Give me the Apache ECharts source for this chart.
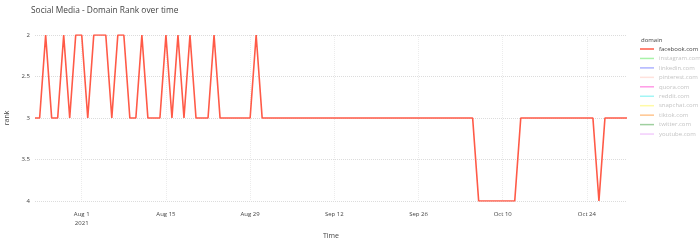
<!DOCTYPE html>
<html><head><meta charset="utf-8">
<script src="https://cdn.jsdelivr.net/npm/echarts@6/dist/echarts.min.js"></script>
<style>html,body{margin:0;padding:0;background:#fff}#c{width:700px;height:241px}</style>
</head><body><div id="c"></div>
<script>
const dates = [
'2021-07-24T05:30:00','2021-07-25','2021-07-26','2021-07-27','2021-07-28','2021-07-29','2021-07-30','2021-07-31',
'2021-08-01','2021-08-02','2021-08-03','2021-08-04','2021-08-05','2021-08-06','2021-08-07','2021-08-08','2021-08-09','2021-08-10',
'2021-08-11','2021-08-12','2021-08-13','2021-08-14','2021-08-15','2021-08-16','2021-08-17','2021-08-18','2021-08-19','2021-08-20',
'2021-08-21','2021-08-22','2021-08-23','2021-08-24','2021-08-25','2021-08-26','2021-08-27','2021-08-28','2021-08-29','2021-08-30','2021-08-31',
'2021-09-01','2021-09-02','2021-09-03','2021-09-04','2021-09-05','2021-09-06','2021-09-07','2021-09-08','2021-09-09','2021-09-10',
'2021-09-11','2021-09-12','2021-09-13','2021-09-14','2021-09-15','2021-09-16','2021-09-17','2021-09-18','2021-09-19','2021-09-20',
'2021-09-21','2021-09-22','2021-09-23','2021-09-24','2021-09-25','2021-09-26','2021-09-27','2021-09-28','2021-09-29','2021-09-30',
'2021-10-01','2021-10-02','2021-10-03','2021-10-04','2021-10-05','2021-10-06','2021-10-07','2021-10-08','2021-10-09','2021-10-10',
'2021-10-11','2021-10-12','2021-10-13','2021-10-14','2021-10-15','2021-10-16','2021-10-17','2021-10-18','2021-10-19','2021-10-20',
'2021-10-21','2021-10-22','2021-10-23','2021-10-24','2021-10-25','2021-10-26','2021-10-27','2021-10-28','2021-10-29','2021-10-30T16:00:00'
];
const facebookRank = [
3,3,2,3,3,2,3,2,
2,3,2,2,2,3,2,2,3,3,
2,3,3,3,2,3,2,3,2,3,
3,3,2,3,3,3,3,3,3,2,3,
3,3,3,3,3,3,3,3,3,3,
3,3,3,3,3,3,3,3,3,3,
3,3,3,3,3,3,3,3,3,3,
3,3,3,3,3,4,4,4,4,4,
4,4,3,3,3,3,3,3,3,3,
3,3,3,3,3,4,3,3,3,3
];
const domains = ['facebook.com','instagram.com','linkedin.com','pinterest.com','quora.com','reddit.com','snapchat.com','tiktok.com','twitter.com','youtube.com'];
const domainColors = ['#ff5a47','#a8f2a8','#aeb3ff','#ffe2dd','#ff9ae6','#a3f5f5','#fffaa6','#ffc48e','#9fcf9f','#f3cdfc'];
const xTickDates = ['2021-08-01','2021-08-15','2021-08-29','2021-09-12','2021-09-26','2021-10-10','2021-10-24'];
const yTicks = [2, 2.5, 3, 3.5, 4];
const monthNames = ['Jan','Feb','Mar','Apr','May','Jun','Jul','Aug','Sep','Oct','Nov','Dec'];

const toTs = s => new Date(s.length === 10 ? s + 'T00:00:00' : s).getTime();
const xTickTs = xTickDates.map(toTs);
const fbData = dates.map((d, i) => [toTs(d), facebookRank[i]]);

const chart = echarts.init(document.getElementById('c'), null, {renderer: 'canvas'});
const font = "'Open Sans', sans-serif";
const series = domains.map((name, i) => ({
  name: name,
  type: 'line',
  data: i === 0 ? fbData : [],
  symbol: 'none',
  color: domainColors[i],
  lineStyle: {width: 1.6, color: domainColors[i]},
  animation: false
}));

chart.setOption({
  animation: false,
  backgroundColor: '#fff',
  title: [
    {text: 'Social Media - Domain Rank over time', left: 26, top: 1.5,
     textStyle: {fontFamily: font, fontSize: 8.4, fontWeight: 'normal', color: '#444'}},
    {text: 'domain', left: 636, top: 32,
     textStyle: {fontFamily: font, fontSize: 6, fontWeight: 'normal', color: '#444'}}
  ],
  legend: {
    orient: 'vertical', left: 635, top: 41,
    selectedMode: false,
    icon: 'rect', itemWidth: 14, itemHeight: 1.5, itemGap: 3.45,
    textStyle: {fontFamily: font, fontSize: 6, color: '#444'},
    data: domains.map((name, i) => ({
      name: name,
      itemStyle: {color: domainColors[i]},
      textStyle: {color: i === 0 ? '#444' : '#c4c4c4'}
    }))
  },
  grid: {left: 35, right: 73, top: 35, bottom: 40, containLabel: false, outerBoundsMode: 'none'},
  xAxis: {
    type: 'value',
    min: toTs(dates[0]),
    max: toTs(dates[dates.length - 1]),
    name: 'Time', nameLocation: 'middle', nameGap: 27,
    nameTextStyle: {fontFamily: font, fontSize: 7, color: '#444'},
    axisLine: {show: false},
    axisTick: {show: false, customValues: xTickTs},
    axisLabel: {
      customValues: xTickTs,
      fontFamily: font, fontSize: 6, color: '#444', margin: 8.5, lineHeight: 9,
      formatter: function (v) {
        const d = new Date(v);
        const s = monthNames[d.getMonth()] + ' ' + d.getDate();
        return v === xTickTs[0] ? s + '\n' + d.getFullYear() : s;
      }
    },
    splitLine: {show: true, lineStyle: {color: '#ececec', type: 'dotted', width: 1}}
  },
  yAxis: {
    type: 'value', inverse: true,
    min: yTicks[0], max: yTicks[yTicks.length - 1], interval: 0.5,
    name: 'rank', nameLocation: 'middle', nameGap: 22,
    nameTextStyle: {fontFamily: font, fontSize: 7, color: '#444'},
    axisLine: {show: false},
    axisTick: {show: false},
    axisLabel: {fontFamily: font, fontSize: 6, color: '#444', margin: 5},
    splitLine: {show: true, lineStyle: {color: '#dcdcdc', type: 'dotted', width: 1}}
  },
  series: series
});
</script>
</body></html>
